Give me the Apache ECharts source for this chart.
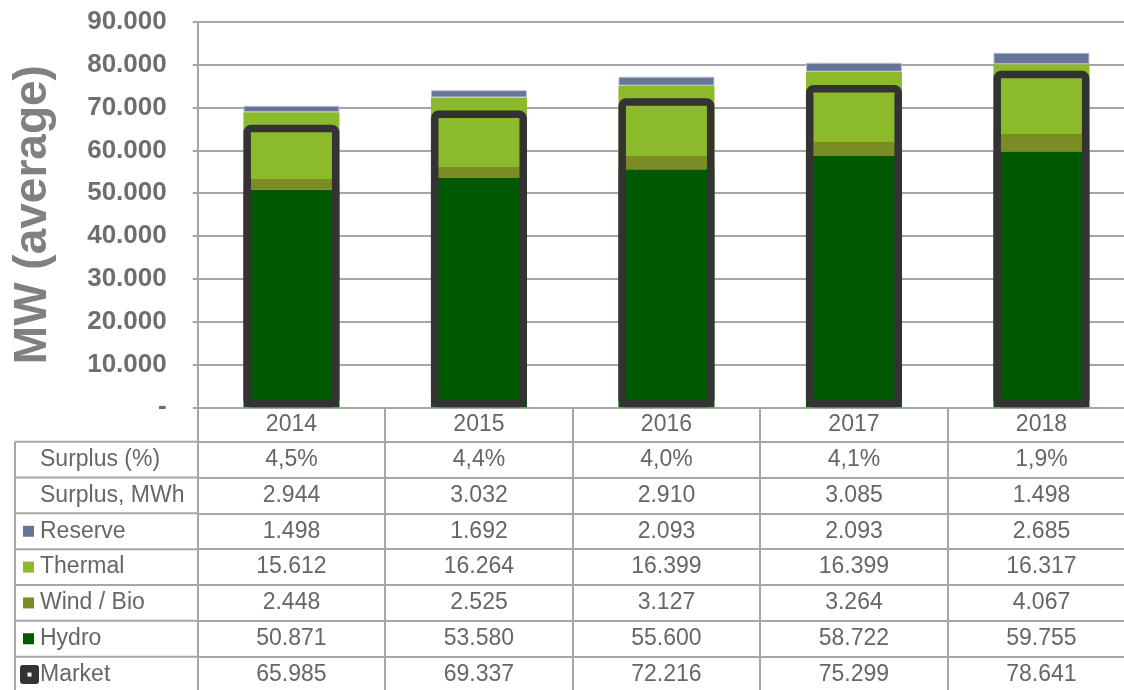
<!DOCTYPE html>
<html>
<head>
<meta charset="utf-8">
<script src="https://cdn.jsdelivr.net/npm/echarts@6/dist/echarts.min.js"></script>
<style>html,body{margin:0;padding:0;background:#fff;overflow:hidden}#c{width:1124px;height:690px}</style>
</head>
<body>
<div id="c"></div>
<script>
const years = ['2014', '2015', '2016', '2017', '2018'];
const surplusPct = ['4,5%', '4,4%', '4,0%', '4,1%', '1,9%'];
const surplusMWh = [2944, 3032, 2910, 3085, 1498];
const reserve = [1498, 1692, 2093, 2093, 2685];
const thermal = [15612, 16264, 16399, 16399, 16317];
const windBio = [2448, 2525, 3127, 3264, 4067];
const hydro = [50871, 53580, 55600, 58722, 59755];
const market = [65985, 69337, 72216, 75299, 78641];
const yTicks = [0, 10000, 20000, 30000, 40000, 50000, 60000, 70000, 80000, 90000];

const FONT = '"Liberation Sans", Arial, sans-serif';
const LINE = '#a6a6a6';
const TXT = '#666666';
const fmt = n => String(n).replace(/\B(?=(\d{3})+(?!\d))/g, '.');

const colors = { reserve: '#677598', thermal: '#8bba2b', wind: '#7b8c22', hydro: '#005900', market: '#333333' };

const rows = [
  { label: 'Surplus (%)', values: surplusPct, icon: null },
  { label: 'Surplus, MWh', values: surplusMWh.map(fmt), icon: null },
  { label: 'Reserve', values: reserve.map(fmt), icon: colors.reserve },
  { label: 'Thermal', values: thermal.map(fmt), icon: colors.thermal },
  { label: 'Wind / Bio', values: windBio.map(fmt), icon: colors.wind },
  { label: 'Hydro', values: hydro.map(fmt), icon: colors.hydro },
  { label: 'Market', values: market.map(fmt), icon: 'market' }
];

const AXIS_Y = 407.3, HEAD_H = 34.4, ROW_H = 35.83, TABLE_LEFT = 15, PLOT_LEFT = 197.7, PLOT_W = 937.5;

const chart = echarts.init(document.getElementById('c'), null, { renderer: 'canvas' });

const xAxes = [{
  type: 'category', data: years, gridIndex: 0, position: 'bottom',
  axisLine: { show: true, lineStyle: { color: LINE, width: 2 } },
  axisTick: { show: true, alignWithLabel: false, interval: 0, length: 690 - AXIS_Y, lineStyle: { color: LINE, width: 2 } },
  axisLabel: { color: TXT, fontSize: 23, lineHeight: 23, fontFamily: FONT, margin: 6, interval: 0 },
  z: 1
}];
rows.forEach((r, k) => {
  xAxes.push({
    type: 'category', data: r.values, gridIndex: 0, position: 'bottom',
    offset: HEAD_H + ROW_H * k,
    axisLine: { show: true, lineStyle: { color: LINE, width: 2 } },
    axisTick: { show: false },
    axisLabel: { color: TXT, fontSize: 23, lineHeight: 23, fontFamily: FONT, margin: 6.4, interval: 0 },
    splitLine: { show: false }
  });
});

const graphics = [];
graphics.push({ type: 'line', shape: { x1: TABLE_LEFT, y1: AXIS_Y + HEAD_H, x2: TABLE_LEFT, y2: 690 }, style: { stroke: LINE, lineWidth: 2 }, silent: true });
rows.forEach((r, k) => {
  const top = AXIS_Y + HEAD_H + ROW_H * k;
  const cy = top + ROW_H / 2;
  graphics.push({ type: 'line', shape: { x1: TABLE_LEFT, y1: top, x2: PLOT_LEFT, y2: top }, style: { stroke: LINE, lineWidth: 2 }, silent: true });
  graphics.push({ type: 'text', x: 40, y: cy, style: { text: r.label, fill: TXT, font: '23px ' + FONT, textVerticalAlign: 'middle', verticalAlign: 'middle' }, silent: true });
  if (r.icon === 'market') {
    graphics.push({ type: 'rect', shape: { x: 20, y: cy - 9.5, width: 19, height: 19, r: 3 }, style: { fill: colors.market }, silent: true });
    graphics.push({ type: 'rect', shape: { x: 27.5, y: cy - 2, width: 4, height: 4 }, style: { fill: '#ffffff' }, silent: true });
  } else if (r.icon) {
    graphics.push({ type: 'rect', shape: { x: 23, y: cy - 5.5, width: 11, height: 11 }, style: { fill: r.icon }, silent: true });
  }
});

const BW = 96;
const stackSeries = (name, data, color, extra) => ({
  name, type: 'bar', stack: 'supply', data, barWidth: BW, barGap: '-100%',
  itemStyle: Object.assign({ color, borderWidth: 0 }, extra || {}), z: 2
});

const option = {
  animation: false,
  backgroundColor: '#ffffff',
  grid: { left: PLOT_LEFT, width: PLOT_W, top: 22, bottom: 690 - AXIS_Y, containLabel: false, outerBoundsMode: 'none' },
  xAxis: xAxes,
  yAxis: {
    type: 'value', min: 0, max: 90000, interval: 10000,
    name: 'MW (average)', nameLocation: 'middle', nameGap: 141, nameRotate: 90,
    nameTextStyle: { color: '#808080', fontSize: 46, fontWeight: 'bold', fontFamily: FONT },
    axisLine: { show: true, lineStyle: { color: LINE, width: 2 } },
    axisTick: { show: true, length: 5, lineStyle: { color: LINE, width: 2 } },
    axisLabel: {
      color: '#6e6e6e', fontSize: 26, fontWeight: 'bold', fontFamily: FONT, margin: 31,
      formatter: v => (yTicks.indexOf(v) === 0 ? '-' : fmt(v))
    },
    splitLine: { show: true, lineStyle: { color: LINE, width: 2 } }
  },
  series: [
    stackSeries('Hydro', hydro, colors.hydro),
    stackSeries('Wind / Bio', windBio, colors.wind),
    stackSeries('Thermal', thermal, colors.thermal),
    stackSeries('Reserve', reserve, colors.reserve, { borderColor: '#b9c1d6', borderWidth: 1 }),
    {
      name: 'Market', type: 'bar', data: market, barWidth: BW, barGap: '-100%',
      itemStyle: { color: 'rgba(0,0,0,0)', borderColor: colors.market, borderWidth: 7.5, borderRadius: 4 },
      z: 3
    }
  ],
  graphic: graphics
};
chart.setOption(option);
</script>
</body>
</html>
